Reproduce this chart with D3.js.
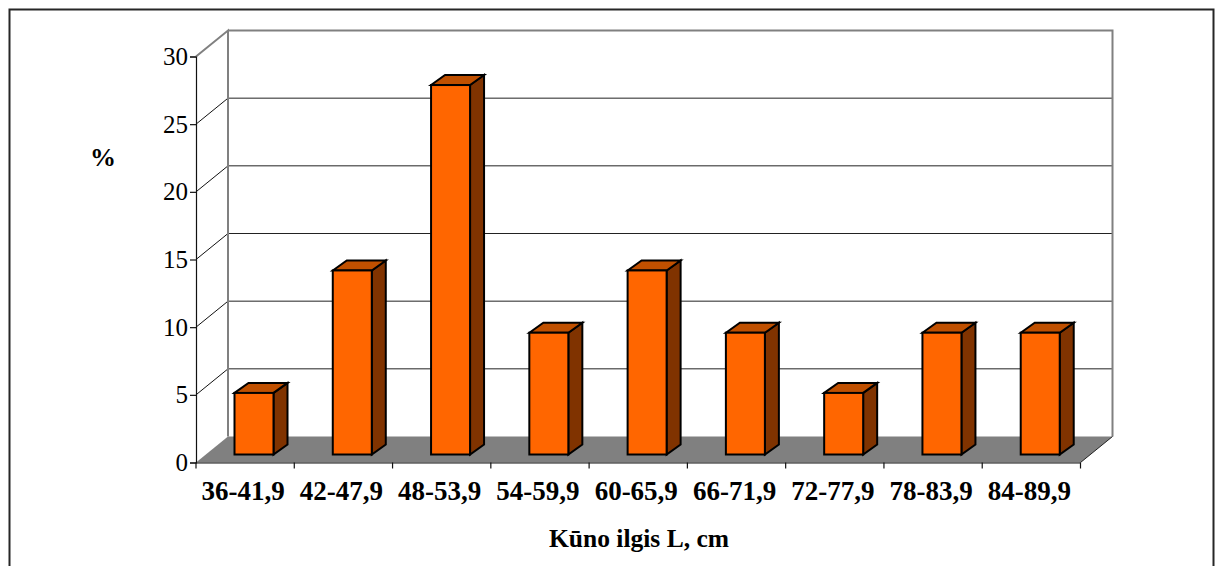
<!DOCTYPE html>
<html><head><meta charset="utf-8">
<script src="https://cdn.jsdelivr.net/npm/d3@7"></script>
<style>
html,body{margin:0;padding:0;background:#fff}
svg{display:block}
text{font-family:"Liberation Serif",serif;fill:#000}
</style></head><body><svg id="c" width="1215" height="566"></svg>
<script>
const categories=["36-41,9","42-47,9","48-53,9","54-59,9","60-65,9","66-71,9","72-77,9","78-83,9","84-89,9"];
const values=[4.55,13.6,27.3,9.0,13.6,9.0,4.55,9.0,9.0];
const yTicks=[0,5,10,15,20,25,30];
const yTitle="%";
const xTitle="Kūno ilgis L, cm";

const svg=d3.select("#c");
const x=d3.scaleBand().domain(categories).range([196,1080.5]).paddingInner(0).paddingOuter(0);
const y=d3.scaleLinear().domain([0,30]).range([462.5,56.5]);
const wall={dx:32,dy:-26};
const bar={ox:38.5,w:39,base:-8,dx:14,dy:-10};

svg.append("path").attr("d","M9.5,566V9.5H1213.5V566").attr("fill","none").attr("stroke","#000").attr("stroke-width",2).attr("stroke-opacity",.85);

const [x0,x1]=x.range();
svg.append("path").attr("fill","#808080")
 .attr("d",`M${x0},${y(0)}L${x0+wall.dx},${y(0)+wall.dy}H${x1+wall.dx}L${x1},${y(0)}Z`);

svg.append("g").selectAll("line").data(yTicks.filter(t=>t>0&&t<30)).join("line")
 .attr("x1",x0+wall.dx).attr("x2",x1+wall.dx).attr("y1",d=>y(d)+wall.dy).attr("y2",d=>y(d)+wall.dy)
 .attr("stroke","#222").attr("stroke-width",1);
svg.append("g").selectAll("line").data(yTicks.filter(t=>t>0&&t<30)).join("line")
 .attr("x1",x0).attr("x2",x0+wall.dx).attr("y1",d=>y(d)).attr("y2",d=>y(d)+wall.dy)
 .attr("stroke","#111").attr("stroke-width",1);
svg.append("path").attr("fill","none").attr("stroke","#808080").attr("stroke-width",2)
 .attr("d",`M${x0},${y(30)}L${x0+wall.dx},${y(30)+wall.dy}V${y(0)+wall.dy}M${x0+wall.dx},${y(30)+wall.dy}H${x1+wall.dx}V${y(0)+wall.dy}`);
svg.append("path").attr("fill","none").attr("stroke","#222").attr("stroke-width",1)
 .attr("d",`M${x1},${y(0)}L${x1+wall.dx},${y(0)+wall.dy}`);

const g=svg.append("g").selectAll("g").data(categories.map((c,i)=>({c,v:values[i]}))).join("g");
const bx=d=>x(d.c)+bar.ox, by=d=>y(d.v)+bar.base, bb=y(0)+bar.base;
const st=s=>s.attr("stroke","#000").attr("stroke-width",2).attr("stroke-linejoin","miter");
st(g.append("path").attr("fill","#803300")
 .attr("d",d=>`M${bx(d)+bar.w},${by(d)}l${bar.dx},${bar.dy}V${bb+bar.dy}l${-bar.dx},${-bar.dy}Z`));
st(g.append("path").attr("fill","#C05000")
 .attr("d",d=>`M${bx(d)},${by(d)}l${bar.dx},${bar.dy}h${bar.w}l${-bar.dx},${-bar.dy}Z`));
st(g.append("rect").attr("fill","#FF6600")
 .attr("x",bx).attr("y",by).attr("width",bar.w).attr("height",d=>bb-by(d)));

const ay=svg.append("g").attr("transform",`translate(${x0},0)`).call(d3.axisLeft(y).tickValues(yTicks).tickSize(6).tickPadding(2));
ay.selectAll("text").attr("font-size",25).attr("font-family","Liberation Serif");
ay.selectAll("path,line").attr("stroke","#111").attr("stroke-width",1.2);
const ax=svg.append("g").attr("transform",`translate(0,${y(0)})`).call(d3.axisBottom(x).tickSize(0).tickPadding(18));
ax.selectAll("text").attr("font-size",27).attr("font-weight","bold").attr("font-family","Liberation Serif").attr("dx",-2);
ax.selectAll(".tick line").remove();
ax.select("path").attr("stroke","#111").attr("stroke-width",1.2).attr("d",`M${x0},0.5H${x1}`);
ax.append("g").selectAll("line").data(categories).join("line")
 .attr("x1",d=>x(d)+x.bandwidth()).attr("x2",d=>x(d)+x.bandwidth()).attr("y1",0).attr("y2",6).attr("stroke","#111").attr("stroke-width",1.2);
ax.append("line").attr("x1",x0).attr("x2",x0).attr("y1",0).attr("y2",6).attr("stroke","#111").attr("stroke-width",1.2);

svg.append("text").attr("x",103).attr("y",166).attr("text-anchor","middle").attr("font-size",26).attr("font-weight","bold").text(yTitle);
svg.append("text").attr("x",639).attr("y",547).attr("text-anchor","middle").attr("font-size",25.5).attr("font-weight","bold").text(xTitle);
</script></body></html>
